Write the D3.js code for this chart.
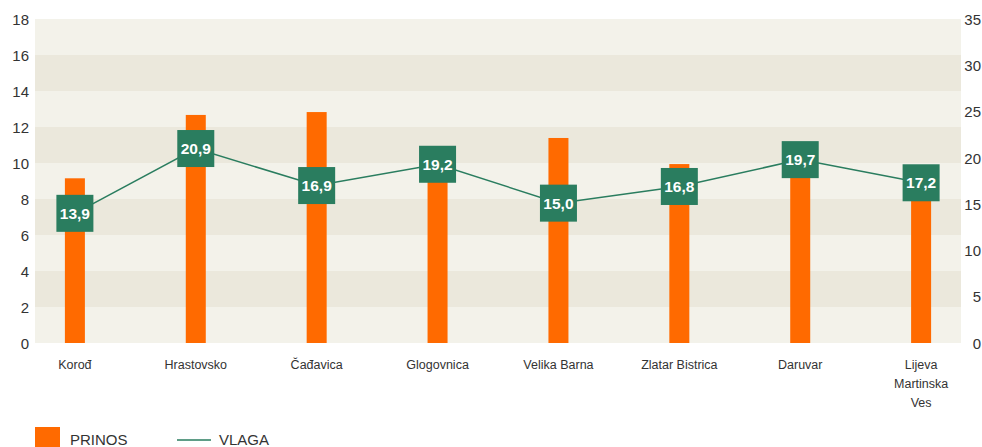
<!DOCTYPE html>
<html><head><meta charset="utf-8">
<script src="https://cdn.jsdelivr.net/npm/d3@7"></script>
<style>
html,body{margin:0;padding:0;background:#fff;}
svg{display:block;font-family:"Liberation Sans",Arial,Helvetica,sans-serif;}
</style></head>
<body>
<svg id="chart" width="982" height="447"></svg>
<script>
const categories = ["Korođ","Hrastovsko","Čađavica","Glogovnica","Velika Barna","Zlatar Bistrica","Daruvar","Lijeva Martinska Ves"];
const categoryLines = [["Korođ"],["Hrastovsko"],["Čađavica"],["Glogovnica"],["Velika Barna"],["Zlatar Bistrica"],["Daruvar"],["Lijeva","Martinska","Ves"]];
const prinos = [9.15, 12.67, 12.83, 10.4, 11.39, 9.94, 9.33, 9.83];
const vlaga = [13.9, 20.9, 16.9, 19.2, 15.0, 16.8, 19.7, 17.2];
const vlagaLabels = ["13,9","20,9","16,9","19,2","15,0","16,8","19,7","17,2"];
const leftTicks = [0,2,4,6,8,10,12,14,16,18];
const rightTicks = [0,5,10,15,20,25,30,35];
const legendNames = ["PRINOS","VLAGA"];

const svg = d3.select("#chart");
const L = 35, R = 961, T = 19, B = 343;
const orange = "#ff6a00", green = "#2a7d5f", txt = "#333";

const x = d3.scalePoint().domain(categories).range([L, R]).padding(0.33);
const yL = d3.scaleLinear().domain([0, 18]).range([B, T]);
const yR = d3.scaleLinear().domain([0, 35]).range([B, T]);

// bands
const bands = d3.range(0, 18, 2);
svg.append("g").selectAll("rect").data(bands).join("rect")
  .attr("x", L).attr("width", R - L)
  .attr("y", d => yL(d + 2)).attr("height", d => yL(d) - yL(d + 2))
  .attr("fill", d => (d / 2) % 2 === 0 ? "#f3f2ea" : "#ebe8dc");

// left axis
const axL = d3.axisLeft(yL).tickValues(leftTicks).tickSize(0).tickPadding(6);
const gL = svg.append("g").attr("transform", `translate(${L},0)`).call(axL);
gL.select(".domain").remove();
gL.selectAll("text").attr("fill", txt).style("font-size", "15px").attr("x", -6).attr("dy", "0.35em");

// right axis
const axR = d3.axisRight(yR).tickValues(rightTicks).tickSize(0).tickPadding(0);
const gR = svg.append("g").attr("transform", `translate(${R},0)`).call(axR);
gR.select(".domain").remove();
gR.selectAll("text").attr("fill", txt).style("font-size", "15px")
  .attr("text-anchor", "end").attr("x", 981 - R).attr("dy", "0.35em");

// bars
const bw = 20;
svg.append("g").selectAll("rect").data(prinos).join("rect")
  .attr("x", (d, i) => x(categories[i]) - bw / 2).attr("width", bw)
  .attr("y", d => yL(d)).attr("height", d => yL(0) - yL(d))
  .attr("fill", orange);

// line
const line = d3.line().x((d, i) => x(categories[i])).y(d => yR(d) - 1);
svg.append("path").datum(vlaga).attr("d", line)
  .attr("fill", "none").attr("stroke", green).attr("stroke-width", 1.5);

// labels boxes
const bs = 37;
const lg = svg.append("g").selectAll("g").data(vlaga).join("g")
  .attr("transform", (d, i) => `translate(${x(categories[i])},${yR(d) - 1})`);
lg.append("rect").attr("x", -bs / 2).attr("y", -bs / 2).attr("width", bs).attr("height", bs).attr("fill", green);
lg.append("text").text((d, i) => vlagaLabels[i]).attr("text-anchor", "middle").attr("dy", "0.36em")
  .attr("fill", "#fff").style("font-size", "15.5px").style("font-weight", "bold");

// category labels
const cg = svg.append("g").selectAll("text").data(categoryLines).join("text")
  .attr("text-anchor", "middle").attr("fill", txt)
  .style("font-size", "12.5px")
  .attr("transform", (d, i) => `translate(${x(categories[i])},369)`);
cg.selectAll("tspan").data(d => d).join("tspan")
  .attr("x", 0).attr("y", (d, j) => j * 19).text(d => d);

// legend
svg.append("rect").attr("x", 35).attr("y", 427).attr("width", 25).attr("height", 25).attr("fill", orange);
svg.append("text").attr("x", 70).attr("y", 445).text(legendNames[0]).attr("fill", txt).style("font-size", "15px");
svg.append("line").attr("x1", 177).attr("x2", 211).attr("y1", 440).attr("y2", 440).attr("stroke", green).attr("stroke-width", 1.5);
svg.append("text").attr("x", 219).attr("y", 445).text(legendNames[1]).attr("fill", txt).style("font-size", "15px");
</script>
</body></html>
